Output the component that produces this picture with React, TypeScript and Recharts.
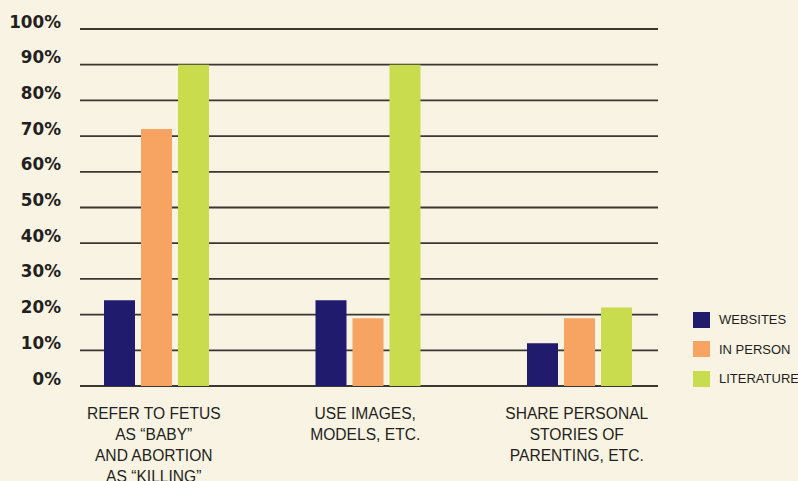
import React from 'react';
import { BarChart, Bar, XAxis, YAxis, CartesianGrid, Legend } from 'recharts';

const categories = ['REFER TO FETUS AS “BABY” AND ABORTION AS “KILLING”', 'USE IMAGES, MODELS, ETC.', 'SHARE PERSONAL STORIES OF PARENTING, ETC.'];
const categoryLines: string[][] = [
  ['REFER TO FETUS', 'AS “BABY”', 'AND ABORTION', 'AS “KILLING”'],
  ['USE IMAGES,', 'MODELS, ETC.'],
  ['SHARE PERSONAL', 'STORIES OF', 'PARENTING, ETC.'],
];
const websites = [24, 24, 12];
const inPerson = [72, 19, 19];
const literature = [90, 90, 22];
const yTicks = [0, 10, 20, 30, 40, 50, 60, 70, 80, 90, 100];

const series = [
  { key: 'websites', name: 'WEBSITES', color: '#211b6e' },
  { key: 'inPerson', name: 'IN PERSON', color: '#f7a462' },
  { key: 'literature', name: 'LITERATURE', color: '#c8dc4e' },
];

const data = categories.map((c, i) => ({
  category: c,
  idx: i,
  websites: websites[i],
  inPerson: inPerson[i],
  literature: literature[i],
}));

const BG = '#f9f3e3';
const TEXT = '#231f20';

const YTick = (props: any) => {
  const { y, payload } = props;
  return (
    <text x={61} y={y - 1.5} textAnchor="end" fontFamily="DejaVu Sans" fontWeight="bold" fontSize={16.8} fill={TEXT}>
      {payload.value + '%'}
    </text>
  );
};

const XTick = (props: any) => {
  const { x, payload } = props;
  const i = categories.indexOf(payload.value);
  const lines = categoryLines[i] || [];
  return (
    <g>
      {lines.map((l, k) => (
        <text key={k} x={x - 3} y={418.5 + k * 21.2} textAnchor="middle" fontFamily="Liberation Sans" fontSize={15.6} fill={TEXT}>
          {l}
        </text>
      ))}
    </g>
  );
};

const LegendContent = () => (
  <div>
    {series.map((s) => (
      <div key={s.key} style={{ display: 'flex', alignItems: 'center', height: 29.5 }}>
        <div style={{ width: 17, height: 16, background: s.color, marginRight: 9 }} />
        <span style={{ fontFamily: 'Liberation Sans', fontSize: 13, color: TEXT, whiteSpace: 'nowrap' }}>{s.name}</span>
      </div>
    ))}
  </div>
);

export default function App() {
  return (
    <div style={{ position: 'absolute', left: 0, top: 0, width: 798, height: 481, background: BG, overflow: 'hidden' }}>
      <BarChart width={798} height={481} data={data} margin={{ top: 29, right: 140, bottom: 0, left: 0 }} barSize={31} barGap={6}>
        <CartesianGrid vertical={false} stroke="#3a3733" strokeWidth={1.8} />
        <XAxis dataKey="category" axisLine={false} tickLine={false} interval={0} height={95} tick={<XTick />} padding={{ left: -29, right: -27.5 }} />
        <YAxis domain={[0, 100]} ticks={yTicks} axisLine={false} tickLine={false} width={80} tick={<YTick />} />
        <Legend layout="vertical" align="center" verticalAlign="middle" content={<LegendContent />} wrapperStyle={{ position: 'absolute', left: 693, top: 305, width: 110, height: 90 }} />
        {series.map((s) => (
          <Bar key={s.key} dataKey={s.key} name={s.name} fill={s.color} isAnimationActive={false} />
        ))}
      </BarChart>
    </div>
  );
}
